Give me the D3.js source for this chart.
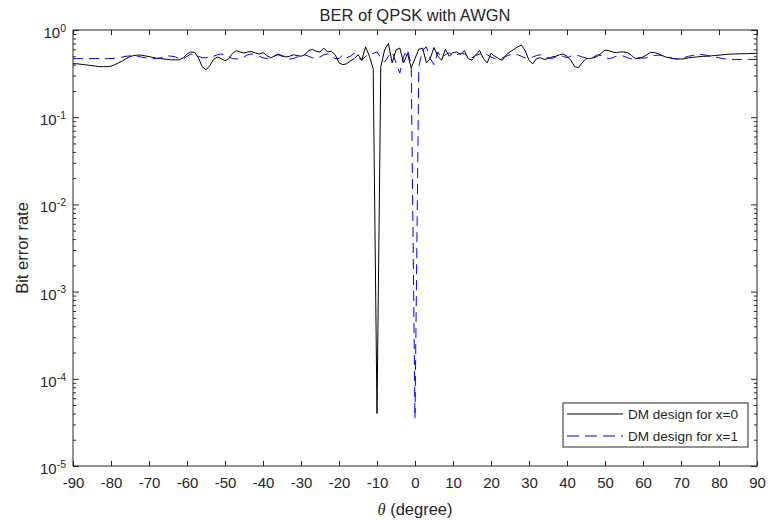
<!DOCTYPE html>
<html>
<head>
<meta charset="utf-8">
<script src="https://cdn.jsdelivr.net/npm/d3@7"></script>
<style>
  body { margin: 0; background: #fff; }
  text { font-family: "Liberation Sans", Arial, sans-serif; fill: #262626; }
</style>
</head>
<body>
<div class="container"></div>
<script>
// chart size and margins (plot box is 73..757 x 30..466)
const width = 768;
const height = 520;
const margin = { top: 30, right: 11, bottom: 54, left: 73 };

// angles, one per degree
const theta = d3.range(-90, 91);

// BER, DM design for x=0 (black)
const berX0 = [
  0.41, 0.41, 0.405, 0.40, 0.395, 0.39, 0.385, 0.38, 0.38, 0.38,
  0.385, 0.40, 0.42, 0.44, 0.47, 0.495, 0.51, 0.515, 0.515, 0.505,
  0.495, 0.485, 0.475, 0.47, 0.465, 0.46, 0.455, 0.455, 0.455, 0.48,
  0.53, 0.56, 0.555, 0.48, 0.38, 0.35, 0.39, 0.46, 0.49, 0.47,
  0.445, 0.47, 0.54, 0.58, 0.56, 0.545, 0.56, 0.565, 0.545, 0.53,
  0.55, 0.51, 0.48, 0.50, 0.53, 0.51, 0.49, 0.50, 0.52, 0.51,
  0.50, 0.52, 0.58, 0.60, 0.57, 0.56, 0.62, 0.56, 0.57, 0.52,
  0.42, 0.40, 0.41, 0.44, 0.47, 0.52, 0.45, 0.64, 0.50, 0.36,
  4.0e-5, 0.38, 0.59, 0.70, 0.42, 0.59, 0.62, 0.42, 0.54, 0.37,
  0.47, 0.60, 0.62, 0.42, 0.47, 0.63, 0.50, 0.45, 0.60, 0.50,
  0.55, 0.56, 0.52, 0.58, 0.47, 0.45, 0.52, 0.58, 0.47, 0.42,
  0.54, 0.50, 0.47, 0.45, 0.52, 0.56, 0.60, 0.64, 0.67, 0.58,
  0.45, 0.41, 0.47, 0.48, 0.46, 0.47, 0.49, 0.50, 0.52, 0.53,
  0.50, 0.45, 0.38, 0.37, 0.42, 0.47, 0.47, 0.48, 0.50, 0.54,
  0.59, 0.58, 0.56, 0.55, 0.56, 0.56, 0.55, 0.51, 0.47, 0.47,
  0.49, 0.52, 0.555, 0.55, 0.535, 0.51, 0.49, 0.48, 0.47, 0.465,
  0.465, 0.47, 0.48, 0.485, 0.49, 0.495, 0.50, 0.50, 0.505, 0.51,
  0.515, 0.52, 0.525, 0.53, 0.53, 0.533, 0.535, 0.535, 0.537, 0.54, 0.54
];

// BER, DM design for x=1 (blue dashed)
const berX1 = [
  0.47, 0.47, 0.47, 0.47, 0.47, 0.47, 0.47, 0.47, 0.47, 0.47,
  0.47, 0.475, 0.48, 0.49, 0.50, 0.505, 0.505, 0.50, 0.49, 0.48,
  0.475, 0.47, 0.47, 0.48, 0.495, 0.505, 0.50, 0.49, 0.47, 0.465,
  0.50, 0.53, 0.52, 0.50, 0.48, 0.48, 0.49, 0.50, 0.52, 0.53,
  0.52, 0.49, 0.47, 0.465, 0.47, 0.49, 0.52, 0.53, 0.52, 0.50,
  0.48, 0.47, 0.49, 0.51, 0.52, 0.50, 0.48, 0.465, 0.47, 0.49,
  0.51, 0.52, 0.50, 0.48, 0.47, 0.49, 0.52, 0.53, 0.50, 0.47,
  0.47, 0.52, 0.48, 0.50, 0.54, 0.48, 0.45, 0.50, 0.53, 0.54,
  0.56, 0.48, 0.43, 0.50, 0.56, 0.42, 0.32, 0.50, 0.60, 0.40,
  3.5e-5, 0.38, 0.59, 0.64, 0.47, 0.40, 0.56, 0.48, 0.52, 0.55,
  0.50, 0.52, 0.54, 0.53, 0.50, 0.48, 0.51, 0.53, 0.54, 0.52,
  0.49, 0.47, 0.46, 0.48, 0.50, 0.52, 0.53, 0.52, 0.50, 0.48,
  0.48, 0.49, 0.51, 0.52, 0.50, 0.48, 0.47, 0.49, 0.51, 0.50,
  0.48, 0.50, 0.52, 0.51, 0.49, 0.48, 0.47, 0.49, 0.52, 0.51,
  0.48, 0.47, 0.48, 0.50, 0.51, 0.50, 0.48, 0.465, 0.47, 0.485,
  0.475, 0.48, 0.50, 0.51, 0.515, 0.51, 0.50, 0.485, 0.47, 0.465,
  0.47, 0.485, 0.50, 0.51, 0.52, 0.525, 0.52, 0.51, 0.50, 0.49,
  0.48, 0.47, 0.465, 0.46, 0.46, 0.46, 0.46, 0.46, 0.46, 0.46, 0.46
];

const seriesNames = ["DM design for x=0", "DM design for x=1"];
const seriesColors = ["#000000", "#0000ff"];
const xTicks = d3.range(-90, 91, 10);
const yTicks = [1e-5, 1e-4, 1e-3, 1e-2, 1e-1, 1];
const yExponents = [-5, -4, -3, -2, -1, 0];

const svg = d3.select(".container")
  .append("svg")
  .attr("width", width)
  .attr("height", height);

svg.append("rect").attr("width", width).attr("height", height).attr("fill", "#fff");

const xScale = d3.scaleLinear()
  .domain([-90, 90])
  .range([margin.left, width - margin.right]);

const yScale = d3.scaleLog()
  .domain([1e-5, 1])
  .range([height - margin.bottom, margin.top]);

// minor ticks 2..9 in every decade
const yMinor = [];
yTicks.slice(0, -1).forEach(d => { for (let k = 2; k < 10; k++) yMinor.push(d * k); });

const plotW = width - margin.left - margin.right;
const plotH = height - margin.top - margin.bottom;

svg.append("clipPath").attr("id", "clip")
  .append("rect")
  .attr("x", margin.left).attr("y", margin.top)
  .attr("width", plotW).attr("height", plotH);

// lines
const line = d3.line()
  .x((d, i) => xScale(theta[i]))
  .y(d => yScale(d));

const plotG = svg.append("g").attr("clip-path", "url(#clip)");

plotG.append("path")
  .datum(berX0)
  .attr("d", line)
  .attr("fill", "none")
  .attr("stroke", seriesColors[0])
  .attr("stroke-width", 1);

plotG.append("path")
  .datum(berX1)
  .attr("d", line)
  .attr("fill", "none")
  .attr("stroke", seriesColors[1])
  .attr("stroke-width", 1)
  .attr("stroke-dasharray", "10,6");

// axes (ticks point inwards, matlab style)
function cleanAxis(g) {
  g.select(".domain").remove();
  g.selectAll(".tick line").attr("stroke", "#262626");
}

svg.append("g")
  .attr("transform", `translate(0,${height - margin.bottom})`)
  .call(d3.axisBottom(xScale).tickValues(xTicks).tickSize(-5).tickPadding(11).tickFormat(d => String(d)))
  .call(cleanAxis)
  .attr("font-size", 15);

svg.append("g")
  .attr("transform", `translate(0,${margin.top})`)
  .call(d3.axisTop(xScale).tickValues(xTicks).tickSize(-5).tickFormat(""))
  .call(cleanAxis);

const yLeft = svg.append("g")
  .attr("transform", `translate(${margin.left},0)`)
  .call(d3.axisLeft(yScale).tickValues(yTicks).tickSize(-6).tickPadding(7).tickFormat(""))
  .call(cleanAxis)
  .attr("font-size", 15);

yLeft.selectAll(".tick text").each(function(d, i) {
  const t = d3.select(this).attr("dy", "0.5em");
  t.append("tspan").text("10");
  t.append("tspan").attr("dy", "-0.6em").attr("font-size", 10.5).text(String(yExponents[i]));
});

svg.append("g")
  .attr("transform", `translate(${margin.left},0)`)
  .call(d3.axisLeft(yScale).tickValues(yMinor).tickSize(-3).tickFormat(""))
  .call(cleanAxis);

svg.append("g")
  .attr("transform", `translate(${width - margin.right},0)`)
  .call(d3.axisRight(yScale).tickValues(yTicks).tickSize(-6).tickFormat(""))
  .call(cleanAxis);

svg.append("g")
  .attr("transform", `translate(${width - margin.right},0)`)
  .call(d3.axisRight(yScale).tickValues(yMinor).tickSize(-3).tickFormat(""))
  .call(cleanAxis);

// box
svg.append("rect")
  .attr("x", margin.left).attr("y", margin.top)
  .attr("width", plotW).attr("height", plotH)
  .attr("fill", "none")
  .attr("stroke", "#262626")
  .attr("stroke-width", 1);

// title and labels
svg.append("text")
  .attr("x", margin.left + plotW / 2)
  .attr("y", 21)
  .attr("text-anchor", "middle")
  .attr("font-size", 16.5)
  .text("BER of QPSK with AWGN");

const xl = svg.append("text")
  .attr("x", margin.left + plotW / 2)
  .attr("y", 515)
  .attr("text-anchor", "middle")
  .attr("font-size", 16.5);
xl.append("tspan").attr("font-style", "italic").attr("font-family", "'Liberation Serif', serif").text("θ");
xl.append("tspan").text(" (degree)");

svg.append("text")
  .attr("transform", `translate(28,${margin.top + plotH / 2}) rotate(-90)`)
  .attr("text-anchor", "middle")
  .attr("font-size", 16.5)
  .text("Bit error rate");

// legend
const legend = svg.append("g").attr("transform", "translate(563,403)");
legend.append("rect")
  .attr("width", 185).attr("height", 44)
  .attr("fill", "#fff")
  .attr("stroke", "#262626")
  .attr("stroke-width", 1);

seriesNames.forEach((name, i) => {
  const y = 11 + i * 22;
  legend.append("line")
    .attr("x1", 4).attr("x2", 60)
    .attr("y1", y).attr("y2", y)
    .attr("stroke", seriesColors[i])
    .attr("stroke-width", 1)
    .attr("stroke-dasharray", i === 1 ? "12,6" : null);
  legend.append("text")
    .attr("x", 65).attr("y", y)
    .attr("dy", "0.35em")
    .attr("font-size", 13.5)
    .text(name);
});
</script>
</body>
</html>
